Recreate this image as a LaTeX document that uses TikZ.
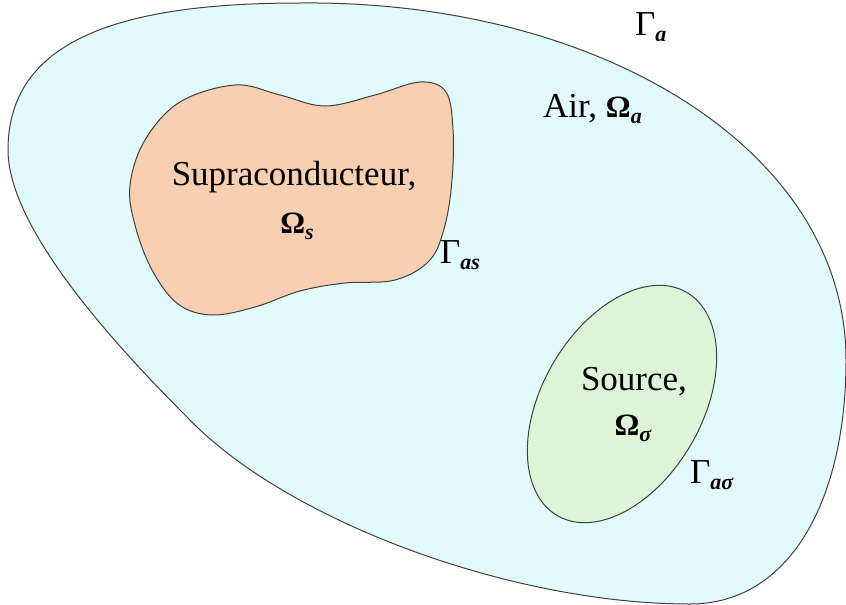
\documentclass[tikz,border=0pt]{standalone}
\usepackage{fontspec}
\setmainfont{Liberation Serif}
\newfontfamily\tnr{Liberation Serif}
\definecolor{airc}{HTML}{E2FAFA}
\definecolor{supc}{HTML}{F8CFB0}
\definecolor{srcc}{HTML}{DDF5D6}
\definecolor{edge}{HTML}{404040}
\begin{document}
\begin{tikzpicture}[x=1pt,y=-1pt,
  region/.style={draw=edge,line width=1pt},
  lbl/.style={inner sep=0pt,font=\tnr\fontsize{35}{40}\selectfont}]
\newcommand{\bsub}[1]{\raisebox{-0.18em}{\fontsize{22}{24}\selectfont\bfseries\itshape #1}}
\newcommand{\bOm}{{\fontsize{31}{34}\selectfont\bfseries Ω}}
\useasboundingbox (0,0) rectangle (846,605);
% outer air domain
\draw[region,fill=airc] (300,3) .. controls (600,0) and (846,150) .. (846,360)
  .. controls (846,500) and (790,604) .. (690,604)
  .. controls (510,604) and (285,520) .. (187,417)
  .. controls (120,350) and (8,230) .. (8,150)
  .. controls (8,40) and (120,3) .. cycle;
% superconductor
\draw[region,fill=supc] plot[smooth cycle,tension=0.6] coordinates {
 (235,85) (280,95) (325,106) (375,95) (420,82) (446,92) (453,130) (452,180)
 (445,225) (430,260) (395,280) (345,283) (300,291) (255,307) (212,315)
 (178,304) (152,270) (135,225) (130,185) (145,140) (180,102)};
% source
\draw[region,fill=srcc,rotate around={60:(622,404)}] (622,404) ellipse [x radius=129, y radius=80];
% labels
\node[lbl,anchor=base west] (ga) at (635,35) {Γ\bsub{a}};
\node[lbl,anchor=base west] (air) at (543,117) {Air, \bOm\bsub{a}};
\node[lbl,anchor=base] (sup) at (294,185) {Supraconducteur,};
\node[lbl,anchor=base] (oms) at (297,233) {\bOm\bsub{s}};
\node[lbl,anchor=base west] (gas) at (440,263) {Γ\bsub{as}};
\node[lbl,anchor=base] (src) at (634,390) {Source,};
\node[lbl,anchor=base] (omsig) at (633,435) {\bOm\bsub{σ}};
\node[lbl,anchor=base west] (gasig) at (690,483) {Γ\bsub{aσ}};
\end{tikzpicture}
\end{document}
